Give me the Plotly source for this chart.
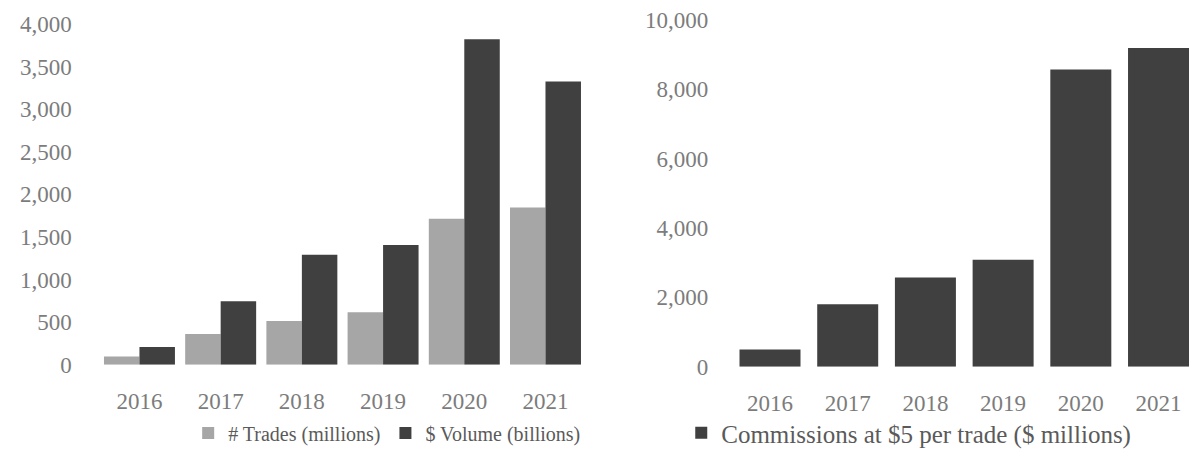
import plotly.graph_objects as go

# Yearly retail trading activity
years = ["2016", "2017", "2018", "2019", "2020", "2021"]
trades_millions = [97, 360, 513, 617, 1713, 1845]
volume_billions = [210, 745, 1290, 1405, 3820, 3325]
commissions_millions = [494, 1800, 2571, 3086, 8571, 9191]

left_ticks = [0, 500, 1000, 1500, 2000, 2500, 3000, 3500, 4000]
right_ticks = [0, 2000, 4000, 6000, 8000, 10000]

LIGHT = "#a6a6a6"
DARK = "#404040"
FONT = "Liberation Serif"
TICK_COLOR = "#7c7c7c"
LEGEND_COLOR = "#5a5a5a"
TICK_FS = 23

fig = go.Figure()
fig.add_trace(go.Bar(
    x=years, y=trades_millions, name="# Trades (millions)",
    marker=dict(color=LIGHT, line=dict(width=0)),
    xaxis="x", yaxis="y", legend="legend",
))
fig.add_trace(go.Bar(
    x=years, y=volume_billions, name="$ Volume (billions)",
    marker=dict(color=DARK, line=dict(width=0)),
    xaxis="x", yaxis="y", legend="legend",
))
fig.add_trace(go.Bar(
    x=years, y=commissions_millions,
    name="Commissions at $5 per trade ($ millions)",
    marker=dict(color=DARK, line=dict(width=0)),
    width=0.785, offset=-0.3925,
    xaxis="x2", yaxis="y2", legend="legend2",
))

tick_font = dict(family=FONT, size=TICK_FS, color=TICK_COLOR)
common_x = dict(type="category", showline=False, showgrid=False, zeroline=False,
                ticks="", tickfont=tick_font, ticklabelstandoff=20, automargin=False)
common_y = dict(showline=False, showgrid=False, zeroline=False, ticks="",
                tickfont=tick_font, tickformat=",", automargin=False)

fig.update_layout(
    width=1191, height=456,
    margin=dict(l=0, r=0, t=0, b=0),
    paper_bgcolor="white", plot_bgcolor="white",
    barmode="group", bargap=0.126, bargroupgap=0,
    font=dict(family=FONT, size=TICK_FS, color=LEGEND_COLOR),
    xaxis=dict(common_x, domain=[0.083, 0.4921], anchor="y"),
    yaxis=dict(common_y, domain=[0.193, 0.947], range=[0, 4000],
               tickvals=left_ticks, anchor="x", ticklabelstandoff=26),
    xaxis2=dict(common_x, domain=[0.6139, 1.0], anchor="y2", range=[-0.5, 5.418]),
    yaxis2=dict(common_y, domain=[0.1886, 0.9561], range=[0, 10000],
                tickvals=right_ticks, anchor="x2", ticklabelstandoff=22),
    legend=dict(orientation="h", x=0.158, y=0.042, xanchor="left", yanchor="middle",
                font=dict(family=FONT, size=20, color=LEGEND_COLOR),
                bgcolor="rgba(0,0,0,0)"),
    legend2=dict(orientation="h", x=0.572, y=0.042, xanchor="left", yanchor="middle",
                 font=dict(family=FONT, size=25, color=LEGEND_COLOR),
                 bgcolor="rgba(0,0,0,0)"),
)

fig.write_html("out.html")
